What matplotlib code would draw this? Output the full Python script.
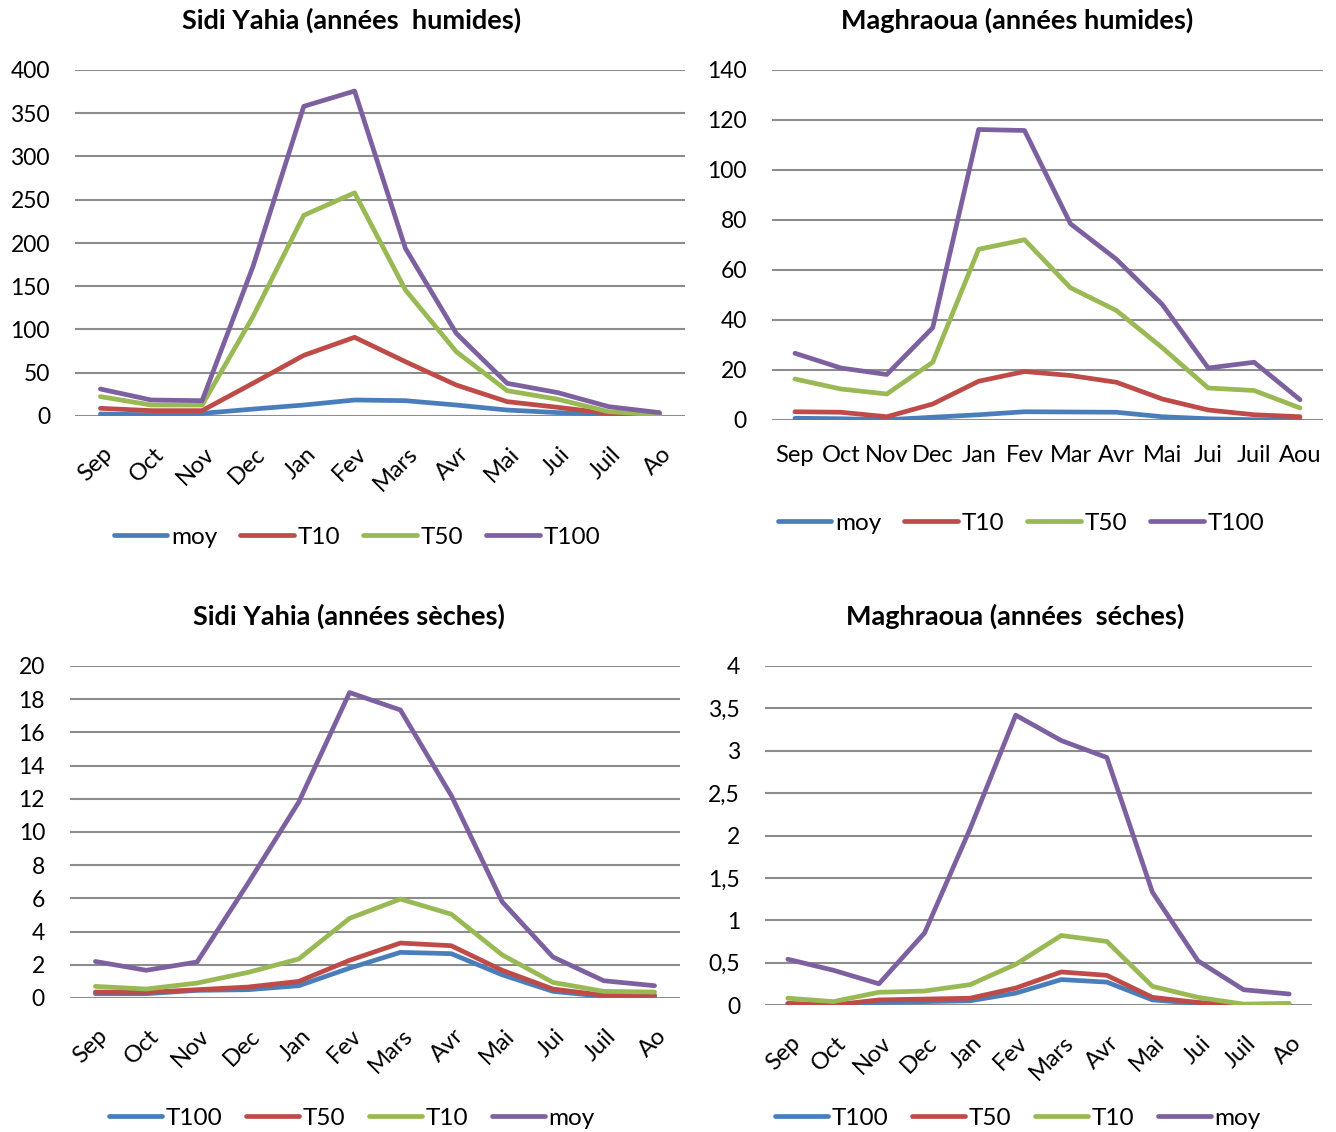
import matplotlib
matplotlib.use("Agg")
import matplotlib.pyplot as plt
from matplotlib.ticker import FuncFormatter
from matplotlib import transforms

plt.rcParams['font.family'] = ['Lato', 'DejaVu Sans']

months_rot = ["Sep", "Oct", "Nov", "Dec", "Jan", "Fev", "Mars", "Avr", "Mai", "Jui", "Juil", "Ao"]
months_flat = ["Sep", "Oct", "Nov", "Dec", "Jan", "Fev", "Mar", "Avr", "Mai", "Jui", "Juil", "Aou"]

# Sidi Yahia, wet years
sy_h_moy = [2.3, 1.5, 3.0, 8.0, 12.7, 18.5, 17.7, 12.7, 6.9, 3.9, 1.9, 0.8]
sy_h_t10 = [8.9, 6.2, 6.2, 37.8, 70.1, 91.0, 62.8, 35.8, 16.6, 10.0, 3.0, 0.8]
sy_h_t50 = [22.4, 12.7, 12.7, 114.8, 232.0, 258.0, 145.7, 74.4, 29.3, 19.3, 5.0, 1.2]
sy_h_t100 = [31.2, 18.5, 17.7, 172.6, 358.0, 375.7, 193.8, 95.6, 37.8, 27.0, 10.8, 3.9]

# Maghraoua, wet years
mg_h_moy = [0.7, 0.5, 0.1, 1.1, 2.1, 3.3, 3.2, 3.1, 1.3, 0.5, 0.1, 0.1]
mg_h_t10 = [3.3, 3.1, 1.3, 6.4, 15.5, 19.4, 17.8, 15.1, 8.4, 4.0, 2.1, 1.3]
mg_h_t50 = [16.4, 12.4, 10.4, 23.1, 68.3, 72.1, 52.9, 43.8, 28.9, 12.8, 11.8, 4.8]
mg_h_t100 = [26.7, 20.8, 18.2, 36.9, 116.2, 115.8, 78.5, 64.3, 46.2, 20.8, 23.1, 8.1]

# Sidi Yahia, dry years
sy_s_t100 = [0.26, 0.26, 0.46, 0.5, 0.74, 1.8, 2.75, 2.67, 1.4, 0.4, 0.1, 0.1]
sy_s_t50 = [0.36, 0.34, 0.5, 0.66, 1.0, 2.27, 3.31, 3.15, 1.67, 0.54, 0.16, 0.16]
sy_s_t10 = [0.7, 0.54, 0.9, 1.54, 2.35, 4.8, 5.96, 5.05, 2.6, 0.94, 0.4, 0.36]
sy_s_moy = [2.2, 1.67, 2.17, 6.9, 11.8, 18.4, 17.35, 12.2, 5.8, 2.47, 1.04, 0.74]

# Maghraoua, dry years
mg_s_t100 = [0.01, 0.0, 0.03, 0.04, 0.05, 0.14, 0.3, 0.27, 0.06, 0.02, 0.0, 0.0]
mg_s_t50 = [0.02, 0.0, 0.06, 0.07, 0.08, 0.2, 0.39, 0.35, 0.09, 0.03, 0.0, 0.0]
mg_s_t10 = [0.08, 0.04, 0.15, 0.165, 0.24, 0.48, 0.82, 0.75, 0.22, 0.09, 0.01, 0.02]
mg_s_moy = [0.54, 0.41, 0.25, 0.85, 2.08, 3.42, 3.12, 2.92, 1.33, 0.52, 0.18, 0.13]

BLUE = "#4A7EBB"
RED = "#BE4B48"
GREEN = "#98B954"
PURPLE = "#7D60A0"
GRID = "#8C8C8C"

W, H = 1336, 1132
fig = plt.figure(figsize=(W / 100, H / 100), dpi=100)


def px_axes(x0, y0, x1, y1):
    return fig.add_axes([x0 / W, 1 - y1 / H, (x1 - x0) / W, (y1 - y0) / H])


def style(ax, ymax, step, labels, rotated, fmt=None):
    ax.set_xlim(-0.5, 11.5)
    ax.set_ylim(0, ymax)
    ticks = [i * step for i in range(int(round(ymax / step)) + 1)]
    ax.set_yticks(ticks)
    if fmt:
        ax.yaxis.set_major_formatter(FuncFormatter(fmt))
    ax.grid(axis='y', color=GRID, linewidth=1.5)
    ax.set_axisbelow(True)
    for s in ax.spines.values():
        s.set_visible(False)
    ax.tick_params(length=0, colors='black')
    ax.tick_params(axis='y', pad=18, labelsize=16.5)
    ax.tick_params(axis='x', labelsize=17)
    ax.set_xticks(range(12))
    if rotated:
        ax.set_xticklabels(labels, rotation=45, ha='right', va='center',
                           rotation_mode='anchor')
        ax.tick_params(axis='x', pad=25)
        off = transforms.ScaledTranslation(9 / 100, 0, fig.dpi_scale_trans)
        for lab in ax.get_xticklabels():
            lab.set_transform(lab.get_transform() + off)
    else:
        ax.set_xticklabels(labels)
        ax.tick_params(axis='x', pad=18)


def draw(ax, series):
    handles = []
    for vals, color, name in series:
        ln, = ax.plot(range(12), vals, color=color, linewidth=3.4,
                      solid_joinstyle='round', solid_capstyle='round', label=name)
        handles.append(ln)
    return handles


def add_title(text, cx, cy):
    fig.text(cx / W, 1 - cy / H, text, ha='center', va='center',
             fontsize=19.5, fontweight='bold')


def add_legend(handles, cx, cy):
    fig.legend(handles=handles, loc='center', bbox_to_anchor=(cx / W, 1 - cy / H),
               ncol=4, frameon=False, fontsize=17.5, handlelength=2.2,
               handletextpad=0.15, columnspacing=0.95)


fmt_comma = lambda v, p: ("%g" % v).replace('.', ',')

# Top left
ax1 = px_axes(75, 70, 685, 416)
h = draw(ax1, [(sy_h_moy, BLUE, "moy"), (sy_h_t10, RED, "T10"),
               (sy_h_t50, GREEN, "T50"), (sy_h_t100, PURPLE, "T100")])
style(ax1, 400, 50, months_rot, True)
add_title("Sidi Yahia (années  humides)", 352, 20)
add_legend(h, 357, 537)

# Top right
ax2 = px_axes(772, 70, 1323, 420)
h = draw(ax2, [(mg_h_moy, BLUE, "moy"), (mg_h_t10, RED, "T10"),
               (mg_h_t50, GREEN, "T50"), (mg_h_t100, PURPLE, "T100")])
style(ax2, 140, 20, months_flat, False)
add_title("Maghraoua (années humides)", 1017, 20)
add_legend(h, 1021, 523)

# Bottom left
ax3 = px_axes(70, 666, 680, 998)
h = draw(ax3, [(sy_s_t100, BLUE, "T100"), (sy_s_t50, RED, "T50"),
               (sy_s_t10, GREEN, "T10"), (sy_s_moy, PURPLE, "moy")])
style(ax3, 20, 2, months_rot, True)
add_title("Sidi Yahia (années sèches)", 349, 616)
add_legend(h, 352, 1118)

# Bottom right
ax4 = px_axes(765, 666, 1312, 1005)
h = draw(ax4, [(mg_s_t100, BLUE, "T100"), (mg_s_t50, RED, "T50"),
               (mg_s_t10, GREEN, "T10"), (mg_s_moy, PURPLE, "moy")])
style(ax4, 4, 0.5, months_rot, True, fmt_comma)
add_title("Maghraoua (années  séches)", 1015, 616)
add_legend(h, 1018, 1118)

fig.savefig("out.png", dpi=100)
